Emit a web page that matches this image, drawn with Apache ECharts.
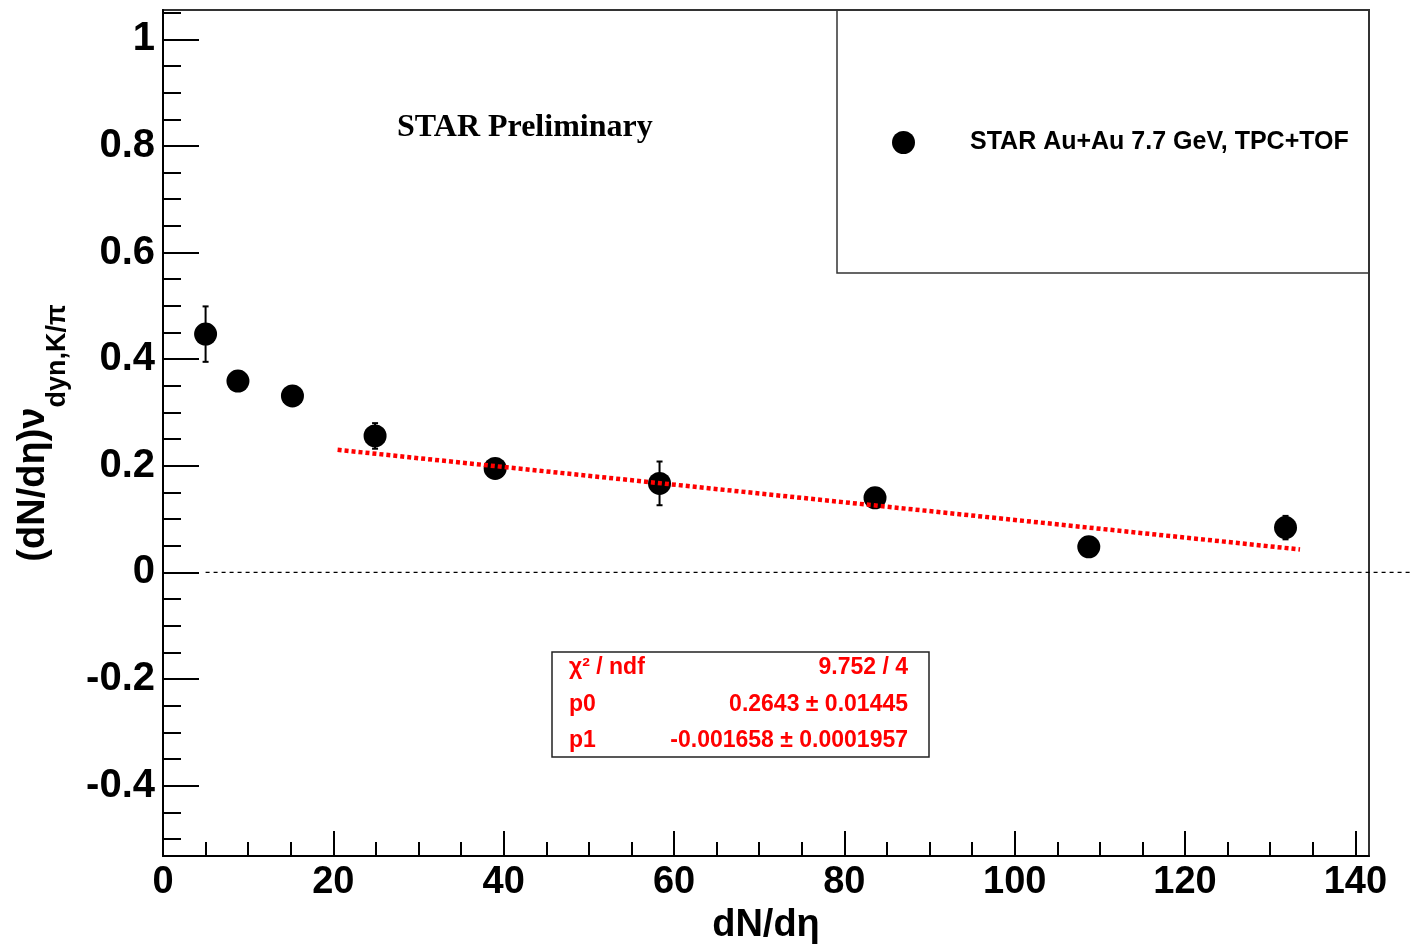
<!DOCTYPE html>
<html><head><meta charset="utf-8">
<script src="https://cdn.jsdelivr.net/npm/echarts@6/dist/echarts.min.js"></script>
<style>html,body{margin:0;padding:0;background:#fff}#c{width:1412px;height:944px}</style>
</head><body><div id="c"></div>
<script>
// ---- data ----
const xVals = [5.0, 8.8, 15.2, 24.9, 39.0, 58.3, 83.6, 108.7, 131.8];
const yVals = [0.447, 0.359, 0.331, 0.256, 0.195, 0.167, 0.140, 0.048, 0.084];
const yErrs = [0.052, 0.005, 0.005, 0.024, 0.010, 0.041, 0.010, 0.008, 0.022];
const fitX = [20.5, 133.5];
const fitY = [0.230, 0.043];
const zeroX = [5, 150];
const xMajor = [0, 20, 40, 60, 80, 100, 120, 140];
const xMinor = [5,10,15,25,30,35,45,50,55,65,70,75,85,90,95,105,110,115,125,130,135];
const yMajor = [-0.4, -0.2, 0, 0.2, 0.4, 0.6, 0.8, 1];
const yMinor = [-0.5,-0.45,-0.35,-0.3,-0.25,-0.15,-0.1,-0.05,0.05,0.1,0.15,0.25,0.3,0.35,0.45,0.5,0.55,0.65,0.7,0.75,0.85,0.9,0.95,1.05];
const seriesName = 'STAR Au+Au 7.7 GeV, TPC+TOF';
const statLabels = ['χ² / ndf', 'p0', 'p1'];
const statValues = ['9.752 / 4', '0.2643 ± 0.01445', '-0.001658 ± 0.0001957'];
const xRange = [0, 141.6];
const yRange = [-0.532, 1.055];

const SANS = '"Liberation Sans", Arial, sans-serif';
const SERIF = '"Liberation Serif", "Times New Roman", serif';

const chart = echarts.init(document.getElementById('c'));
const pts = xVals.map((x, i) => [x, yVals[i]]);
const errData = xVals.map((x, i) => [x, yVals[i], yErrs[i]]);
const fitData = fitX.map((x, i) => [x, fitY[i]]);

const staticGraphics = [
  {type: 'rect', shape: {x: 837, y: 10, width: 532, height: 263}, style: {fill: 'none', stroke: '#333', lineWidth: 1.5}, z: 10},
  {type: 'text', x: 397, y: 128, style: {text: 'STAR Preliminary', font: 'bold 32px ' + SERIF, fill: '#000', textVerticalAlign: 'middle'}, z: 10},
  {type: 'rect', shape: {x: 552, y: 652, width: 377, height: 105}, style: {fill: '#fff', stroke: '#222', lineWidth: 1.5}, z: 10},
  ...statLabels.map((t, i) => ({type: 'text', x: 569, y: 668 + i * 36.5, z: 11,
    style: {text: t, font: 'bold 23px ' + SANS, fill: '#ff0000', textVerticalAlign: 'middle'}})),
  ...statValues.map((t, i) => ({type: 'text', x: 908, y: 668 + i * 36.5, z: 11,
    style: {text: t, font: 'bold 23px ' + SANS, fill: '#ff0000', textAlign: 'right', textVerticalAlign: 'middle'}}))
];

const option = {
  backgroundColor: '#fff',
  animation: false,
  grid: {left: 163, top: 10, right: 43, bottom: 88, containLabel: false, outerBoundsMode: 'none',
         show: true, borderColor: '#333', borderWidth: 2, backgroundColor: 'transparent'},
  legend: {
    data: [seriesName],
    left: 887, top: 125,
    icon: 'circle', itemWidth: 23, itemHeight: 23,
    itemStyle: {opacity: 1, color: '#000'},
    textStyle: {fontFamily: SANS, fontWeight: 'bold', fontSize: 25, color: '#000', padding: [0, 0, 0, 50]},
    selectedMode: false
  },
  xAxis: [
    {
      type: 'value', min: xRange[0], max: xRange[1], splitLine: {show: false},
      axisLine: {show: true, onZero: false, lineStyle: {color: '#000', width: 2}},
      axisTick: {show: true, inside: true, length: 25, customValues: xMajor, lineStyle: {color: '#000', width: 2}},
      axisLabel: {customValues: xMajor, fontFamily: SANS, fontWeight: 'bold', fontSize: 38, color: '#000', margin: 8},
      name: 'dN/dη', nameLocation: 'middle', nameGap: 48,
      nameTextStyle: {fontFamily: SANS, fontWeight: 'bold', fontSize: 38, color: '#000'}
    },
    {
      type: 'value', min: xRange[0], max: xRange[1], position: 'bottom', splitLine: {show: false},
      axisLine: {show: false, onZero: false},
      axisTick: {show: true, inside: true, length: 14, customValues: xMinor, lineStyle: {color: '#000', width: 2}},
      axisLabel: {show: false}
    }
  ],
  yAxis: [
    {
      type: 'value', min: yRange[0], max: yRange[1], splitLine: {show: false},
      axisLine: {show: true, onZero: false, lineStyle: {color: '#000', width: 2}},
      axisTick: {show: true, inside: true, length: 36, customValues: yMajor, lineStyle: {color: '#000', width: 2}},
      axisLabel: {customValues: yMajor, fontFamily: SANS, fontWeight: 'bold', fontSize: 40, color: '#000', margin: 8},
      name: '{a|(dN/dη)ν}{s|dyn,K/π}', nameLocation: 'middle', nameGap: 92, nameRotate: 90,
      nameTextStyle: {
        color: '#000',
        rich: {
          a: {fontFamily: SANS, fontWeight: 'bold', fontSize: 38, lineHeight: 56, verticalAlign: 'top', color: '#000'},
          s: {fontFamily: SANS, fontWeight: 'bold', fontSize: 27, lineHeight: 56, verticalAlign: 'bottom', color: '#000'}
        }
      }
    },
    {
      type: 'value', min: yRange[0], max: yRange[1], position: 'left', splitLine: {show: false},
      axisLine: {show: false, onZero: false},
      axisTick: {show: true, inside: true, length: 18, customValues: yMinor, lineStyle: {color: '#000', width: 2}},
      axisLabel: {show: false}
    }
  ],
  series: [
    {
      type: 'custom', data: errData, z: 3,
      renderItem: function (params, api) {
        const x = api.value(0), y = api.value(1), e = api.value(2);
        const top = api.coord([x, y + e]);
        const bot = api.coord([x, y - e]);
        const st = {stroke: '#000', lineWidth: 2};
        return {type: 'group', children: [
          {type: 'line', shape: {x1: top[0], y1: top[1], x2: bot[0], y2: bot[1]}, style: st},
          {type: 'line', shape: {x1: top[0] - 3, y1: top[1], x2: top[0] + 3, y2: top[1]}, style: st},
          {type: 'line', shape: {x1: bot[0] - 3, y1: bot[1], x2: bot[0] + 3, y2: bot[1]}, style: st}
        ]};
      }
    },
    {
      name: seriesName, type: 'scatter', data: pts, symbol: 'circle', symbolSize: 23,
      itemStyle: {color: '#000', opacity: 1}, z: 4
    },
    {
      type: 'line', data: fitData, symbol: 'none', silent: true,
      lineStyle: {color: '#ff0000', width: 4.5, type: [4, 3]}, z: 5
    }
  ],
  graphic: staticGraphics
};
chart.setOption(option);

// zero reference line (extends past the frame, as in the original)
const p0 = chart.convertToPixel({xAxisIndex: 0, yAxisIndex: 0}, [zeroX[0], 0]);
const p1 = chart.convertToPixel({xAxisIndex: 0, yAxisIndex: 0}, [zeroX[1], 0]);
chart.setOption({graphic: staticGraphics.concat([{
  type: 'line', z: 1, silent: true,
  shape: {x1: p0[0], y1: p0[1], x2: p1[0], y2: p1[1]},
  style: {stroke: '#000', lineWidth: 1.2, lineDash: [4, 4]}
}])}, {replaceMerge: ['graphic']});
</script>
</body></html>
